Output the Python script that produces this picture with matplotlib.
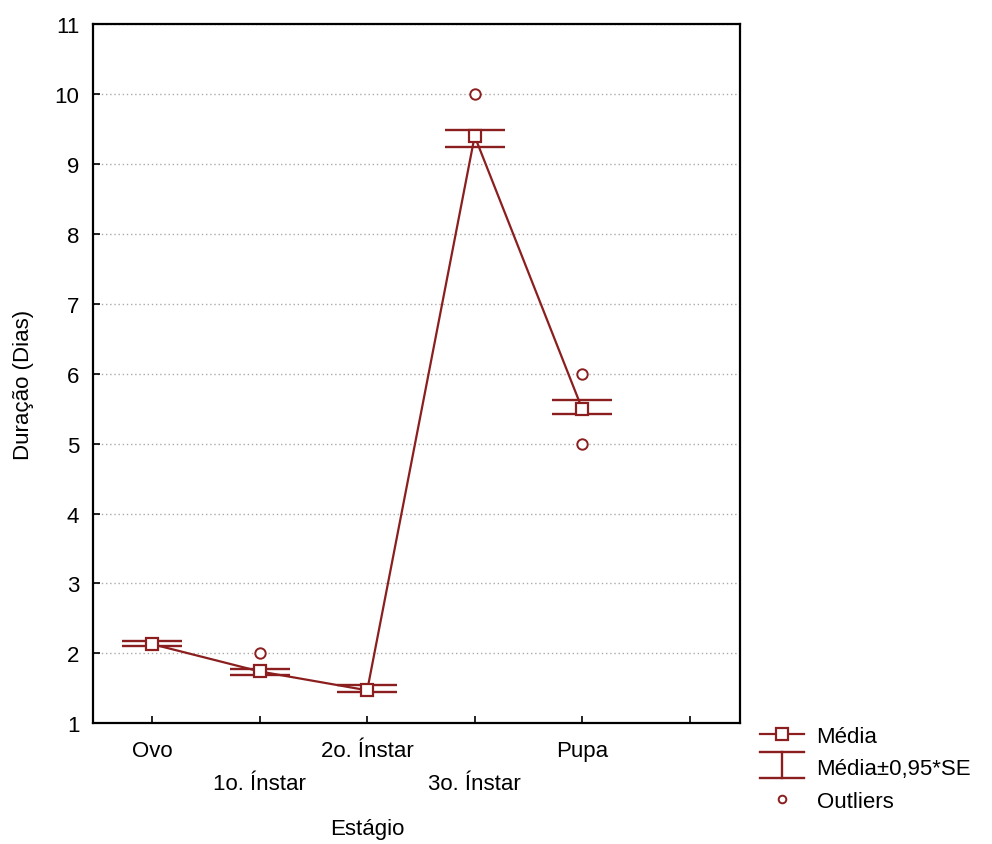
import matplotlib
matplotlib.use("Agg")
import matplotlib.pyplot as plt
from matplotlib.lines import Line2D
from matplotlib.legend_handler import HandlerBase

plt.rcParams['font.family'] = ['Liberation Sans', 'DejaVu Sans']

stages = ['Ovo', '1o. Ínstar', '2o. Ínstar', '3o. Ínstar', 'Pupa']
means = [2.13, 1.74, 1.47, 9.40, 5.50]
se_low = [2.11, 1.69, 1.44, 9.25, 5.43]
se_high = [2.18, 1.77, 1.55, 9.49, 5.62]
outlier_x = ['1o. Ínstar', '3o. Ínstar', 'Pupa', 'Pupa']
outlier_y = [2.0, 10.0, 6.0, 5.0]
yticks = list(range(1, 12))

color = '#8b1e1e'
fs = 16

fig = plt.figure(figsize=(9.92, 8.45), dpi=100)
ax = fig.add_axes([0.094, 0.143, 0.652, 0.827])

xpos = [i + 1 for i in range(len(stages))]
ax.plot(xpos, means, color=color, lw=1.6, marker='s', ms=8.5,
        mfc='white', mec=color, mew=1.6, zorder=4)
hw = 0.28
ax.hlines(se_low, [x - hw for x in xpos], [x + hw for x in xpos], color=color, lw=1.7, zorder=3)
ax.hlines(se_high, [x - hw for x in xpos], [x + hw for x in xpos], color=color, lw=1.7, zorder=3)
ox = [stages.index(s) + 1 for s in outlier_x]
ax.plot(ox, outlier_y, ls='none', marker='o', ms=7.5, mfc='white', mec=color, mew=1.4, zorder=4)

ax.set_xlim(0.45, 6.47)
ax.set_ylim(1, 11)
ax.set_yticks(yticks)
ax.set_yticklabels([str(v) for v in yticks], fontsize=fs)
ax.set_xticks(list(range(1, 7)))
lbls = []
for i, s in enumerate(stages):
    lbls.append(s if i % 2 == 0 else '\n' + s)
lbls.append('')
ax.set_xticklabels(lbls, fontsize=fs, linespacing=1.76)
ax.tick_params(direction='in', length=5, width=1.2, pad=10)
ax.tick_params(axis='x', pad=12)
for sp in ax.spines.values():
    sp.set_linewidth(1.6)
ax.yaxis.grid(True, ls=(0, (1, 2)), color='#aaaaaa', lw=1)
ax.set_axisbelow(True)
ax.set_xlabel('Estágio', fontsize=fs)
ax.xaxis.set_label_coords(0.423, -0.136)
ax.set_ylabel('Duração (Dias)', fontsize=fs)
ax.yaxis.set_label_coords(-0.091, 0.485)


class HandlerIBar(HandlerBase):
    def create_artists(self, legend, orig_handle, xdescent, ydescent, width, height, fontsize, trans):
        x0, x1 = -xdescent, -xdescent + width
        xm = (x0 + x1) / 2
        yc = -ydescent + height / 2
        y1 = yc + 0.95 * height
        y0 = yc - 0.75 * height
        lines = [Line2D([x0, x1], [y1, y1], color=color, lw=1.7, transform=trans),
                 Line2D([x0, x1], [y0, y0], color=color, lw=1.7, transform=trans),
                 Line2D([xm, xm], [y0, y1], color=color, lw=1.7, transform=trans)]
        return lines


h1 = Line2D([], [], color=color, lw=1.6, marker='s', ms=8.5, mfc='white', mec=color, mew=1.6)
h2 = object()
h3 = Line2D([], [], ls='none', marker='o', ms=5.5, mfc='white', mec=color, mew=1.4)
fig.legend([h1, h2, h3], ['Média', 'Média±0,95*SE', 'Outliers'],
           handler_map={h2: HandlerIBar()},
           loc='upper left', bbox_to_anchor=(0.766, 0.140), frameon=False,
           fontsize=fs, handlelength=2.0, handletextpad=0.55, labelspacing=0.52,
           borderaxespad=0, borderpad=0)

fig.savefig('out.png', dpi=100)
